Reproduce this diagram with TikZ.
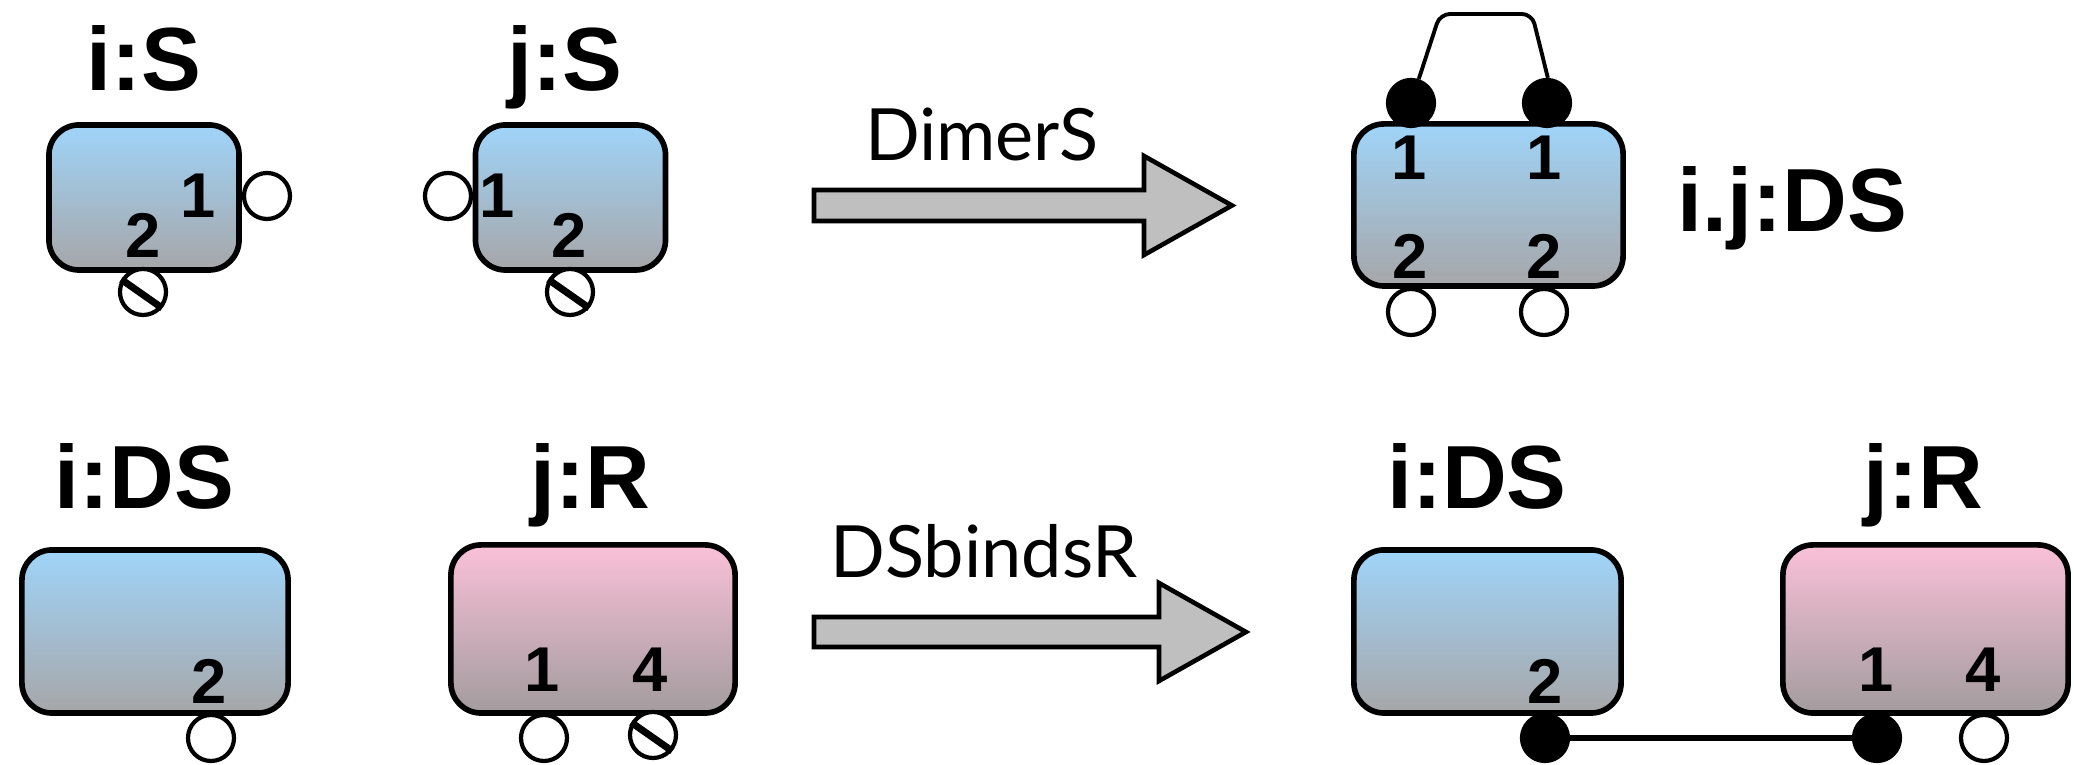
\documentclass[tikz,border=0pt]{standalone}
\usepackage{fontspec}
\newfontfamily\agentfont{Liberation Sans}
\newfontfamily\rulefont{Lato}
\definecolor{sblue}{HTML}{9FD4F9}
\definecolor{sgrey}{HTML}{A6A6A8}
\definecolor{rpink}{HTML}{FAC0D8}
\definecolor{rgrey}{HTML}{A29C9E}
\definecolor{arrowgrey}{HTML}{BFBFBF}
\tikzstyle{sagent}=[draw,rectangle,rounded corners=0.3cm,line width=1.6pt,inner sep=0pt,top color=sblue,bottom color=sgrey]
\tikzstyle{ragent}=[draw,rectangle,rounded corners=0.3cm,line width=1.6pt,inner sep=0pt,top color=rpink,bottom color=rgrey]
\tikzstyle{site}=[draw,circle,fill=white,line width=1.2pt,minimum size=0.46cm,inner sep=0pt]
\tikzstyle{bound}=[site,fill=black]
\tikzstyle{slash}=[line width=2pt]
\tikzstyle{num}=[inner sep=0pt,font=\agentfont\bfseries\fontsize{18}{18}\selectfont]
\tikzstyle{agentname}=[inner sep=0pt,anchor=base,font=\agentfont\bfseries\fontsize{25.5}{25.5}\selectfont]
\tikzstyle{rulename}=[inner sep=0pt,anchor=base,font=\rulefont\fontsize{20.5}{20.5}\selectfont]
\tikzstyle{reaction}=[draw,fill=arrowgrey,line width=1.3pt,line join=miter]
\begin{document}
\begin{tikzpicture}[x=0.01cm,y=-0.01cm]
\useasboundingbox (0,0) rectangle (2074,765);

% DimerS: two S monomers
\node[agentname] (is-name) at (144,91) {i:S};
\node[sagent,minimum width=1.90cm,minimum height=1.45cm] (is) at (144,197.5) {};
\node[num] (is-1) at (198,196) {1};
\node[num] (is-2) at (143,235) {2};
\node[site] (is-s1) at (267,196) {};
\node[site] (is-s2) at (143,292) {};
\draw[slash] (is-s2.150)--(is-s2.-40);

\node[agentname] (js-name) at (565,91) {j:S};
\node[sagent,minimum width=1.90cm,minimum height=1.45cm] (js) at (570.5,197.5) {};
\node[num] (js-1) at (497,196) {1};
\node[num] (js-2) at (569,235) {2};
\node[site] (js-s1) at (448,196) {};
\node[site] (js-s2) at (570,292) {};
\draw[slash] (js-s2.150)--(js-s2.-40);

\draw[reaction] (814,190)--(1144,190)--(1144,156)--(1232,205.5)--(1144,255)--(1144,221)--(814,221)--cycle;
\node[rulename] (dimers) at (982,161) {DimerS};

\node[sagent,minimum width=2.69cm,minimum height=1.62cm] (ijds) at (1488.5,205) {};
\node[num] (ijds-1a) at (1409,158) {1};
\node[num] (ijds-1b) at (1544,158) {1};
\node[num] (ijds-2a) at (1410,256) {2};
\node[num] (ijds-2b) at (1544,256) {2};
\node[bound] (ijds-s1a) at (1411,103) {};
\node[bound] (ijds-s1b) at (1547,103) {};
\node[site] (ijds-s2a) at (1411,312) {};
\node[site] (ijds-s2b) at (1544,312) {};
\draw[line width=1.1pt,rounded corners=0.1cm] (ijds-s1a.72)--(1440,14)--(1532,14)--(ijds-s1b.88);
\node[agentname,anchor=base west] (ijds-name) at (1677,232) {i.j:DS};

% DSbindsR: dimer meets receptor
\node[agentname] (ids-name) at (144.5,509) {i:DS};
\node[sagent,minimum width=2.66cm,minimum height=1.63cm] (ids) at (155,631.5) {};
\node[num] (ids-2) at (209,681) {2};
\node[site] (ids-s2) at (211,738) {};

\node[agentname] (jr-name) at (590,509) {j:R};
\node[ragent,minimum width=2.84cm,minimum height=1.68cm] (jr) at (593,629) {};
\node[num] (jr-1) at (542,670) {1};
\node[num] (jr-4) at (650,670) {4};
\node[site] (jr-s1) at (544,738) {};
\node[site] (jr-s4) at (653,735) {};
\draw[slash] (jr-s4.150)--(jr-s4.-40);

\draw[reaction] (814,617)--(1159,617)--(1159,583)--(1246,632)--(1159,681)--(1159,647)--(814,647)--cycle;
\node[rulename] (dsbindsr) at (984,578) {DSbindsR};

\node[agentname] (ids2-name) at (1477,509) {i:DS};
\node[sagent,minimum width=2.67cm,minimum height=1.63cm] (ids2) at (1487.5,631.5) {};
\node[num] (ids2-2) at (1545,681) {2};

\node[agentname] (jr2-name) at (1923,509) {j:R};
\node[ragent,minimum width=2.85cm,minimum height=1.68cm] (jr2) at (1925.5,629) {};
\node[num] (jr2-1) at (1876,670) {1};
\node[num] (jr2-4) at (1983,670) {4};

\draw[line width=1.7pt] (1545,738)--(1877,738);
\node[bound] (ids2-s2) at (1545,738) {};
\node[bound] (jr2-s1) at (1877,738) {};
\node[site] (jr2-s4) at (1984,738) {};
\end{tikzpicture}
\end{document}
